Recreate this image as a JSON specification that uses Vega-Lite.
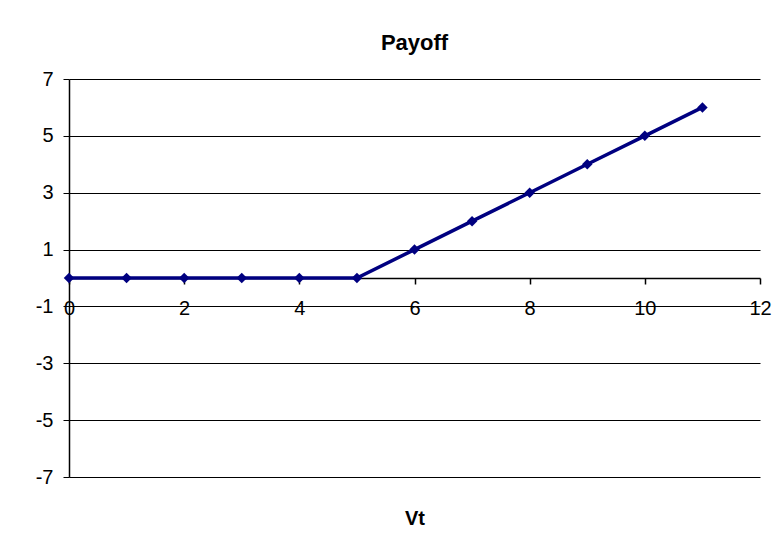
{
  "$schema": "https://vega.github.io/schema/vega-lite/v6.json",
  "width": 691,
  "height": 398,
  "autosize": "none",
  "padding": {"left": 69, "top": 79, "right": 22, "bottom": 82},
  "background": "white",
  "config": {
    "view": {"stroke": null},
    "font": "Liberation Sans",
    "axis": {"labelFont": "Liberation Sans", "titleFont": "Liberation Sans", "labelColor": "black", "titleColor": "black", "domainColor": "black", "tickColor": "black"}
  },
  "title": {"text": "Payoff", "fontSize": 22, "fontWeight": "bold", "font": "Liberation Sans", "color": "black", "offset": 14, "anchor": "middle"},
  "data": {"values": [
    {"Vt": 0, "Payoff": 0}, {"Vt": 1, "Payoff": 0}, {"Vt": 2, "Payoff": 0},
    {"Vt": 3, "Payoff": 0}, {"Vt": 4, "Payoff": 0}, {"Vt": 5, "Payoff": 0},
    {"Vt": 6, "Payoff": 1}, {"Vt": 7, "Payoff": 2}, {"Vt": 8, "Payoff": 3},
    {"Vt": 9, "Payoff": 4}, {"Vt": 10, "Payoff": 5}, {"Vt": 11, "Payoff": 6}
  ]},
  "mark": {"type": "line", "color": "#000080", "strokeWidth": 3.5, "clip": false,
    "point": {"shape": "diamond", "filled": true, "size": 110, "color": "#000080", "opacity": 1}},
  "encoding": {
    "x": {"field": "Vt", "type": "quantitative", "scale": {"domain": [0, 12], "nice": false, "zero": false},
      "axis": {"values": [0, 2, 4, 6, 8, 10, 12], "grid": false, "offset": -199, "tickSize": 6, "labelFontSize": 20, "labelPadding": 14, "labelBaseline": "top", "labelFlush": false, "labelExpr": "'' + datum.value",
        "title": "Vt", "titleFontSize": 20, "titleFontWeight": "bold", "titleY": 240, "titleBaseline": "middle", "domainWidth": 1.5, "tickWidth": 1.5}},
    "y": {"field": "Payoff", "type": "quantitative", "scale": {"domain": [-7, 7], "nice": false, "zero": false},
      "axis": {"values": [-7, -5, -3, -1, 1, 3, 5, 7], "grid": true, "gridColor": "black", "gridWidth": 1.2, "gridOpacity": 1, "tickSize": 6, "labelFontSize": 20, "labelPadding": 10, "labelExpr": "'' + datum.value", "title": null, "domainWidth": 1.5}}
  }
}
